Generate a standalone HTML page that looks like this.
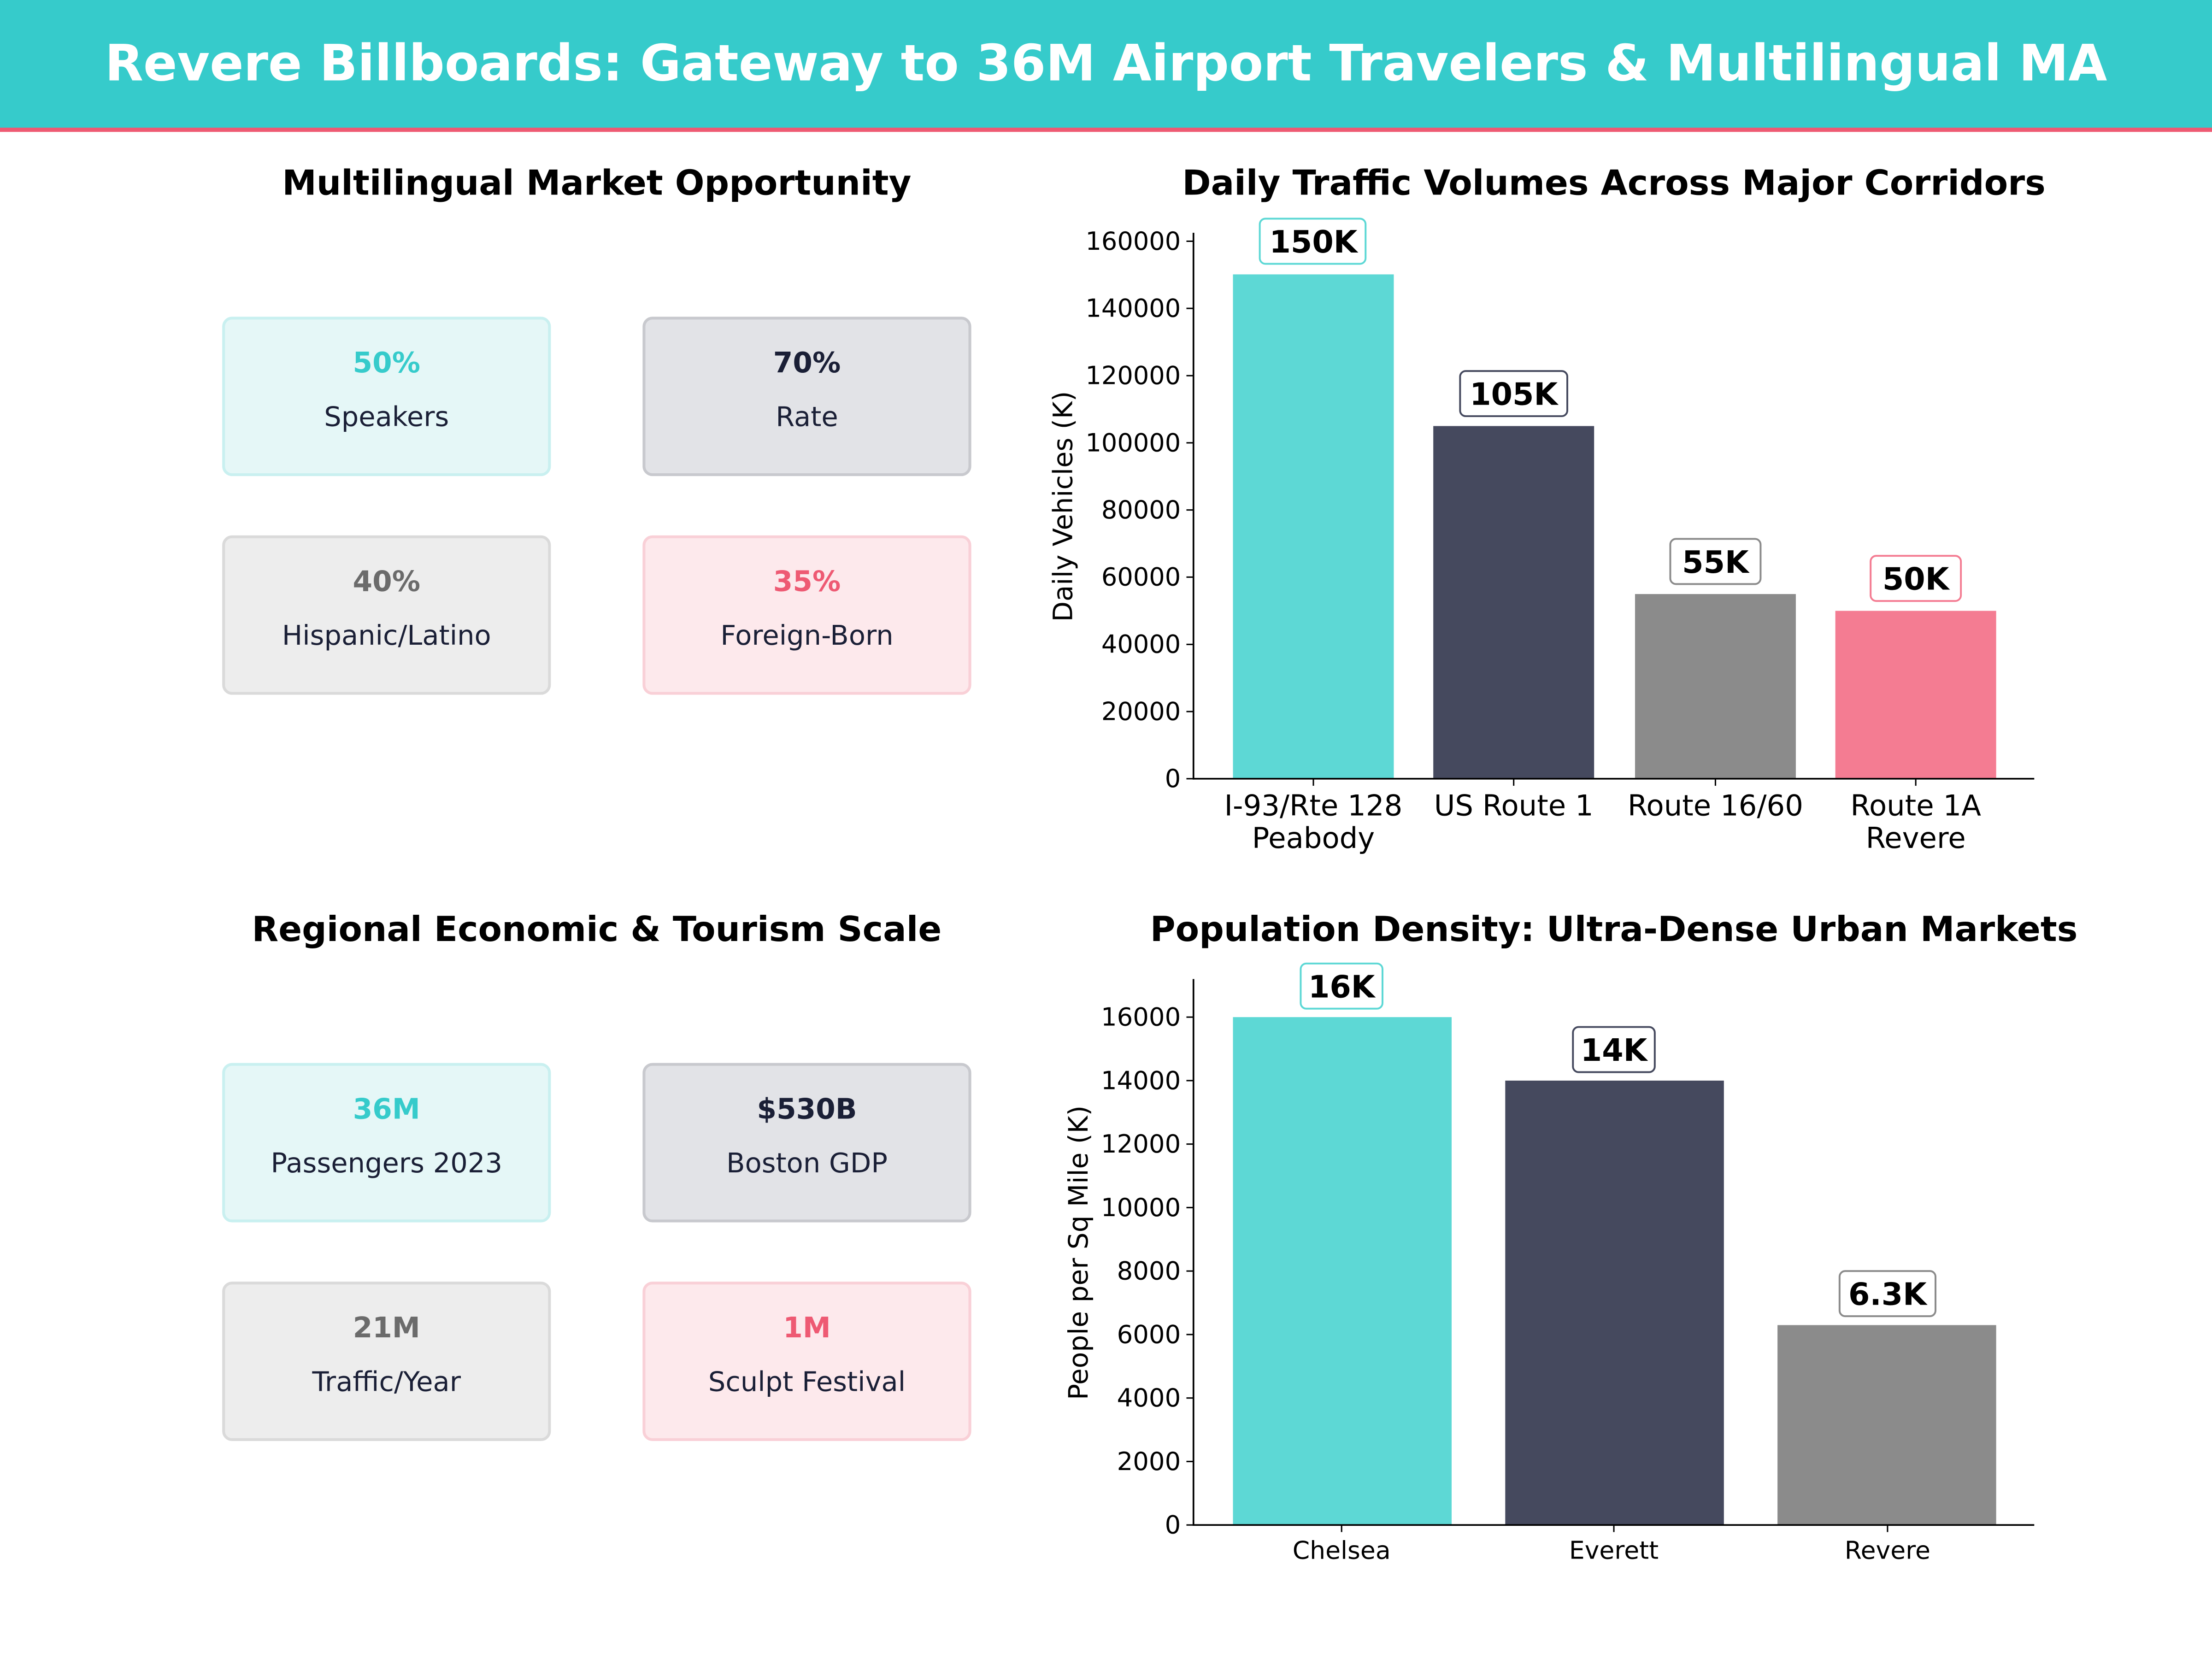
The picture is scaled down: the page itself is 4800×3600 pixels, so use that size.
<!DOCTYPE html>
<html><head><meta charset="utf-8"><style>
html,body{margin:0;padding:0;background:#fff;}
svg{display:block;font-family:"DejaVu Sans","Liberation Sans",sans-serif;}
</style></head><body>
<svg width="4800" height="3600" viewBox="0 0 1568 1176" xmlns="http://www.w3.org/2000/svg">
<rect width="1568" height="1176" fill="#fff"/>
<rect x="0" y="0" width="1568" height="91" fill="#36CBCB"/>
<rect x="0" y="90.5" width="1568" height="3" fill="#EE5A73"/>
<text x="784" y="57" text-anchor="middle" font-size="35.4" font-weight="bold" fill="#fff">Revere Billboards: Gateway to 36M Airport Travelers &amp; Multilingual MA</text>

<!-- Top-left cards -->
<text x="423" y="138" text-anchor="middle" font-size="24.5" font-weight="bold" fill="#000">Multilingual Market Opportunity</text>
<g font-size="19.3" text-anchor="middle">
<rect x="158.5" y="225.5" width="231" height="111" rx="6" fill="#E5F7F7" stroke="#C9F0F0" stroke-width="2"/>
<text x="274" y="264" font-weight="bold" font-size="20" fill="#36CBCB">50%</text>
<text x="274" y="302" fill="#1A1F36">Speakers</text>
<rect x="456.5" y="225.5" width="231" height="111" rx="6" fill="#E2E3E7" stroke="#C8C9CE" stroke-width="2"/>
<text x="572" y="264" font-weight="bold" font-size="20" fill="#1A1F36">70%</text>
<text x="572" y="302" fill="#1A1F36">Rate</text>
<rect x="158.5" y="380.5" width="231" height="111" rx="6" fill="#EDEDED" stroke="#DADADA" stroke-width="2"/>
<text x="274" y="419" font-weight="bold" font-size="20" fill="#6B6B6B">40%</text>
<text x="274" y="457" fill="#1A1F36">Hispanic/Latino</text>
<rect x="456.5" y="380.5" width="231" height="111" rx="6" fill="#FDE9EC" stroke="#F9D0D7" stroke-width="2"/>
<text x="572" y="419" font-weight="bold" font-size="20" fill="#EE5A73">35%</text>
<text x="572" y="457" fill="#1A1F36">Foreign-Born</text>
</g>

<!-- Bottom-left cards -->
<text x="423" y="667" text-anchor="middle" font-size="24.5" font-weight="bold" fill="#000">Regional Economic &amp; Tourism Scale</text>
<g font-size="19.3" text-anchor="middle">
<rect x="158.5" y="754.5" width="231" height="111" rx="6" fill="#E5F7F7" stroke="#C9F0F0" stroke-width="2"/>
<text x="274" y="793" font-weight="bold" font-size="20" fill="#36CBCB">36M</text>
<text x="274" y="831" fill="#1A1F36">Passengers 2023</text>
<rect x="456.5" y="754.5" width="231" height="111" rx="6" fill="#E2E3E7" stroke="#C8C9CE" stroke-width="2"/>
<text x="572" y="793" font-weight="bold" font-size="20" fill="#1A1F36">$530B</text>
<text x="572" y="831" fill="#1A1F36">Boston GDP</text>
<rect x="158.5" y="909.5" width="231" height="111" rx="6" fill="#EDEDED" stroke="#DADADA" stroke-width="2"/>
<text x="274" y="948" font-weight="bold" font-size="20" fill="#6B6B6B">21M</text>
<text x="274" y="986" fill="#1A1F36">Traffic/Year</text>
<rect x="456.5" y="909.5" width="231" height="111" rx="6" fill="#FDE9EC" stroke="#F9D0D7" stroke-width="2"/>
<text x="572" y="948" font-weight="bold" font-size="20" fill="#EE5A73">1M</text>
<text x="572" y="986" fill="#1A1F36">Sculpt Festival</text>
</g>

<!-- Top-right chart -->
<text x="1144" y="138" text-anchor="middle" font-size="24.5" font-weight="bold" fill="#000">Daily Traffic Volumes Across Major Corridors</text>
<rect x="874" y="194.5" width="114" height="357.5" fill="#5DD8D5"/>
<rect x="1016" y="302" width="114" height="250" fill="#45495E"/>
<rect x="1159" y="421.1" width="114" height="130.9" fill="#8B8B8B"/>
<rect x="1301" y="433" width="114" height="119" fill="#F47C92"/>
<g stroke="#000" stroke-width="1.2">
<line x1="846" y1="165" x2="846" y2="552.6"/>
<line x1="845.4" y1="552" x2="1442" y2="552"/>
</g>
<g stroke="#000" stroke-width="1">
<line x1="841" y1="552" x2="846" y2="552"/><line x1="841" y1="504.4" x2="846" y2="504.4"/>
<line x1="841" y1="456.8" x2="846" y2="456.8"/><line x1="841" y1="409.1" x2="846" y2="409.1"/>
<line x1="841" y1="361.5" x2="846" y2="361.5"/><line x1="841" y1="313.9" x2="846" y2="313.9"/>
<line x1="841" y1="266.3" x2="846" y2="266.3"/><line x1="841" y1="218.6" x2="846" y2="218.6"/>
<line x1="841" y1="171" x2="846" y2="171"/>
<line x1="931" y1="552" x2="931" y2="557"/><line x1="1073" y1="552" x2="1073" y2="557"/>
<line x1="1216" y1="552" x2="1216" y2="557"/><line x1="1358" y1="552" x2="1358" y2="557"/>
</g>
<g font-size="17.7" text-anchor="end" fill="#000">
<text x="837" y="558">0</text><text x="837" y="510.4">20000</text><text x="837" y="462.8">40000</text>
<text x="837" y="415.1">60000</text><text x="837" y="367.5">80000</text><text x="837" y="319.9">100000</text>
<text x="837" y="272.3">120000</text><text x="837" y="224.6">140000</text><text x="837" y="177">160000</text>
</g>
<text transform="translate(760,359) rotate(-90)" text-anchor="middle" font-size="18.8" fill="#000">Daily Vehicles (K)</text>
<g font-size="20.4" text-anchor="middle" fill="#000">
<text x="931" y="578">I-93/Rte 128</text><text x="931" y="601">Peabody</text>
<text x="1073" y="578">US Route 1</text>
<text x="1216" y="578">Route 16/60</text>
<text x="1358" y="578">Route 1A</text><text x="1358" y="601">Revere</text>
</g>
<g font-size="21.8" font-weight="bold" text-anchor="middle" fill="#000">
<rect x="893" y="155" width="75" height="32" rx="4" fill="#fff" stroke="#5DD8D5" stroke-width="1.3"/>
<text x="931" y="179">150K</text>
<rect x="1035" y="263" width="76" height="32" rx="4" fill="#fff" stroke="#45495E" stroke-width="1.3"/>
<text x="1073" y="287">105K</text>
<rect x="1184" y="382" width="64" height="32" rx="4" fill="#fff" stroke="#8B8B8B" stroke-width="1.3"/>
<text x="1216" y="406">55K</text>
<rect x="1326" y="394" width="64" height="32" rx="4" fill="#fff" stroke="#F47C92" stroke-width="1.3"/>
<text x="1358" y="418">50K</text>
</g>

<!-- Bottom-right chart -->
<text x="1144" y="667" text-anchor="middle" font-size="24.5" font-weight="bold" fill="#000">Population Density: Ultra-Dense Urban Markets</text>
<rect x="874" y="721" width="155" height="360" fill="#5DD8D5"/>
<rect x="1067" y="766" width="155" height="315" fill="#45495E"/>
<rect x="1260" y="939.3" width="155" height="141.7" fill="#8B8B8B"/>
<g stroke="#000" stroke-width="1.2">
<line x1="846" y1="694" x2="846" y2="1081.6"/>
<line x1="845.4" y1="1081" x2="1442" y2="1081"/>
</g>
<g stroke="#000" stroke-width="1">
<line x1="841" y1="1081" x2="846" y2="1081"/><line x1="841" y1="1036" x2="846" y2="1036"/>
<line x1="841" y1="991" x2="846" y2="991"/><line x1="841" y1="946" x2="846" y2="946"/>
<line x1="841" y1="901" x2="846" y2="901"/><line x1="841" y1="856" x2="846" y2="856"/>
<line x1="841" y1="811" x2="846" y2="811"/><line x1="841" y1="766" x2="846" y2="766"/>
<line x1="841" y1="721" x2="846" y2="721"/>
<line x1="951" y1="1081" x2="951" y2="1086"/><line x1="1144" y1="1081" x2="1144" y2="1086"/>
<line x1="1338" y1="1081" x2="1338" y2="1086"/>
</g>
<g font-size="17.8" text-anchor="end" fill="#000">
<text x="837" y="1087">0</text><text x="837" y="1042">2000</text><text x="837" y="997">4000</text>
<text x="837" y="952">6000</text><text x="837" y="907">8000</text><text x="837" y="862">10000</text>
<text x="837" y="817">12000</text><text x="837" y="772">14000</text><text x="837" y="727">16000</text>
</g>
<text transform="translate(771,888) rotate(-90)" text-anchor="middle" font-size="19" fill="#000">People per Sq Mile (K)</text>
<g font-size="17.5" text-anchor="middle" fill="#000">
<text x="951" y="1105">Chelsea</text><text x="1144" y="1105">Everett</text><text x="1338" y="1105">Revere</text>
</g>
<g font-size="21.8" font-weight="bold" text-anchor="middle" fill="#000">
<rect x="922" y="683" width="58" height="32" rx="4" fill="#fff" stroke="#5DD8D5" stroke-width="1.3"/>
<text x="951" y="707">16K</text>
<rect x="1115" y="728" width="58" height="32" rx="4" fill="#fff" stroke="#45495E" stroke-width="1.3"/>
<text x="1144" y="752">14K</text>
<rect x="1304" y="901" width="68" height="32" rx="4" fill="#fff" stroke="#8B8B8B" stroke-width="1.3"/>
<text x="1338" y="925">6.3K</text>
</g>
</svg>
</body></html>
